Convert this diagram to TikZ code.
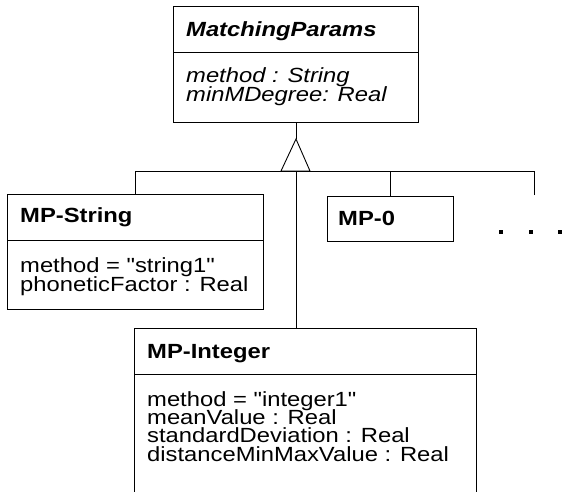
\documentclass[tikz,border=0pt]{standalone}
\usepackage{fontspec}
\usepackage{graphicx}
\setmainfont{Liberation Sans}
% Helvetica-like text, set a little wider than its natural shape
\newcommand{\widetext}[1]{\scalebox{1.16}[1]{#1}}
% straight double quote glyph, bypassing the TeX quote mapping
\newcommand{\dq}{\XeTeXglyph\the\XeTeXcharglyph"22\relax}
\begin{document}
\begin{tikzpicture}[x=1pt,y=-1pt,
  classbox/.style={draw, line width=0.9pt, rectangle, anchor=north west, inner sep=0pt},
  rule/.style={line width=0.9pt},
  link/.style={line width=0.9pt},
  attr/.style={anchor=base west, inner sep=0pt, font=\fontsize{20.5}{22}\selectfont},
  cname/.style={attr, font=\fontsize{20.5}{22}\selectfont\bfseries},
  aname/.style={attr, font=\fontsize{20.5}{22}\selectfont\bfseries\itshape},
  iattr/.style={attr, font=\fontsize{20.5}{22}\selectfont\itshape},
]
\useasboundingbox (0,0) rectangle (562,491);
\clip (0,0) rectangle (562,491);

% abstract base class
\node[classbox, minimum width=245pt, minimum height=116pt] (base) at (173,6) {};
\draw[rule] (173,52) -- (418,52);
\node[aname] (baseT) at (186,36) {\widetext{MatchingParams}};
\node[iattr] (baseA1) at (186,82.5) {\widetext{method : String}};
\node[iattr] (baseA2) at (186,101.5) {\widetext{minMDegree: Real}};

% MP-String
\node[classbox, minimum width=256pt, minimum height=115pt] (str) at (7,194) {};
\draw[rule] (7,240) -- (263,240);
\node[cname] (strT) at (20,222) {\widetext{MP-String}};
\node[attr] (strA1) at (20,272) {\widetext{method = \dq string1\dq}};
\node[attr] (strA2) at (20,291) {\widetext{phoneticFactor : Real}};

% MP-0
\node[classbox, minimum width=126pt, minimum height=45pt] (zero) at (327,196) {};
\node[cname] (zeroT) at (338,225) {\widetext{MP-0}};

% MP-Integer (runs past the lower edge)
\node[classbox, minimum width=342pt, minimum height=180pt] (int) at (134,328) {};
\draw[rule] (134,374) -- (476,374);
\node[cname] (intT) at (147,358) {\widetext{MP-Integer}};
\node[attr] (intA1) at (147,406) {\widetext{method = \dq integer1\dq}};
\node[attr] (intA2) at (147,424.3) {\widetext{meanValue : Real}};
\node[attr] (intA3) at (147,442.6) {\widetext{standardDeviation : Real}};
\node[attr] (intA4) at (147,461) {\widetext{distanceMinMaxValue : Real}};

% generalization: hollow triangle and bus
\coordinate (apex) at (296,139);
\coordinate (busL) at (136,171);
\coordinate (busR) at (534,171);
\coordinate (stub) at (534,195);
\coordinate (intTop) at (296,328);
\draw[link] (base.south -| apex) -- (apex);
\draw[link] (apex) -- (281,171) -- (310,171) -- cycle;
\draw[link] (busL) -- (busR);
\draw[link] (str.north) -- (str.north |- busL);
\draw[link] (zero.north) -- (zero.north |- busL);
\draw[link] (intTop) -- (intTop |- busL);
\draw[link] (stub) -- (busR);

% ellipsis for further subclasses
\fill (499,229.5) rectangle ++(4,4);
\fill (528.5,229.5) rectangle ++(4,4);
\fill (558,229.5) rectangle ++(4,4);
\end{tikzpicture}
\end{document}
